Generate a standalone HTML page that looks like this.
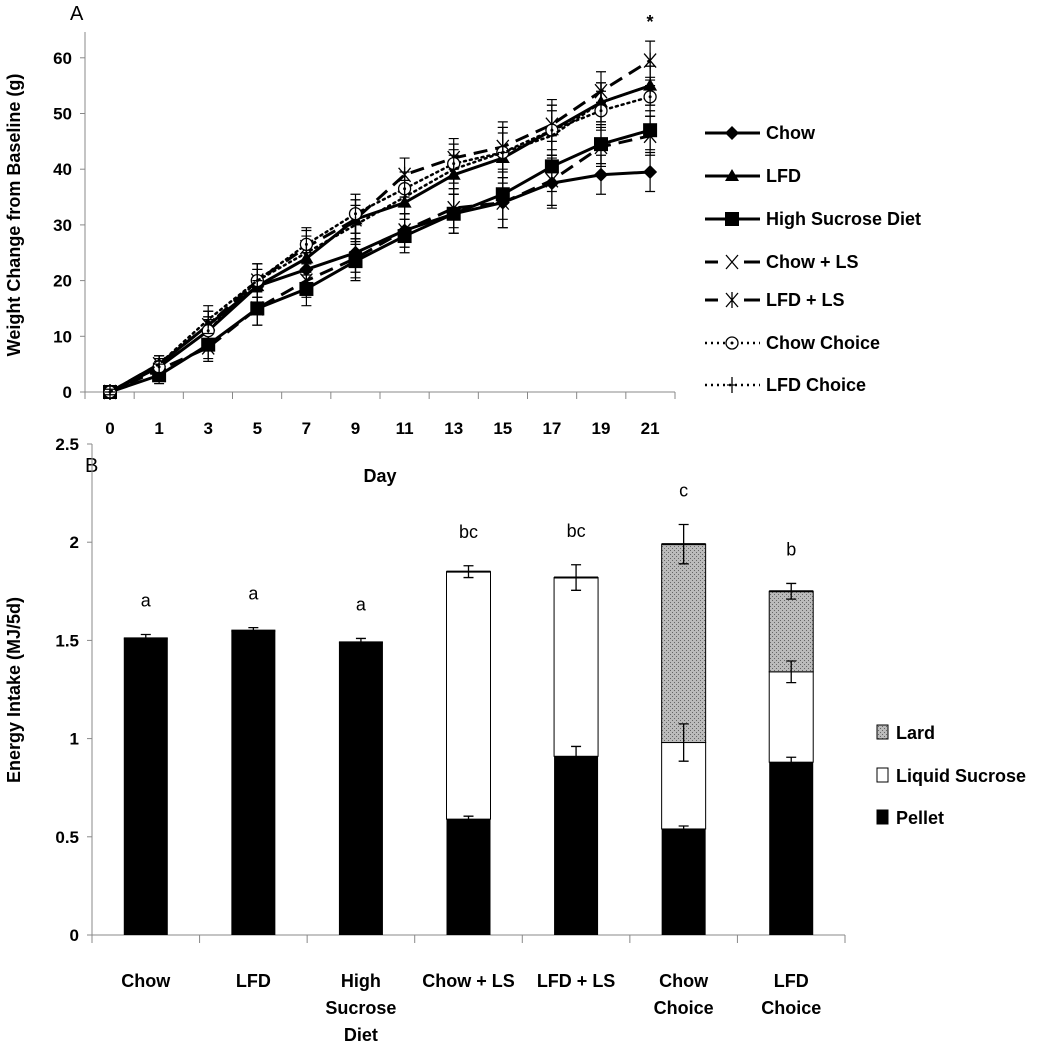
<!DOCTYPE html>
<html><head><meta charset="utf-8"><style>
body{margin:0;background:#fff;}
svg{display:block;font-family:"Liberation Sans",sans-serif;}
</style></head><body>
<svg id="fig" width="1050" height="1046" viewBox="0 0 1050 1046"></svg>
<script>
// ---- Panel A data ----
const days = ["0","1","3","5","7","9","11","13","15","17","19","21"];
const aTicks = [0,10,20,30,40,50,60];
const chow = [0,4.5,11,19,22,25,29,32,34,37.5,39,39.5];
const lfd = [0,5,12,19,24,31,34,39,42,47,52,55];
const hsd = [0,3,8.5,15,18.5,23.5,28,32,35.5,40.5,44.5,47];
const chowLS = [0,4,8,15,20,24,29,33,34,38,44,46];
const lfdLS = [0,5,12,20,26,31,39,42,44,48,54,59.5];
const chowChoice = [0,4.5,11,20,26.5,32,36.5,41,43,47,50.5,53];
const lfdChoice = [0,5,13,20,25,30,35,40,43,46,52,55];
const aErr = [0.5,1.5,2.5,3,3,3.5,3,3.5,4.5,4.5,3.5,3.5];
const aNames = ["Chow","LFD","High Sucrose Diet","Chow + LS","LFD + LS","Chow Choice","LFD Choice"];
// ---- Panel B data ----
const groups = [["Chow"],["LFD"],["High","Sucrose","Diet"],["Chow + LS"],["LFD + LS"],["Chow","Choice"],["LFD","Choice"]];
const pellet = [1.51,1.55,1.49,0.59,0.91,0.54,0.88];
const sucrose = [0,0,0,1.26,0.91,0.44,0.46];
const lard = [0,0,0,0,0,1.01,0.41];
const pelletErr = [0.02,0.015,0.02,0.015,0.05,0.015,0.025];
const sucroseErr = [0,0,0,0.03,0.065,0.095,0.055];
const lardErr = [0,0,0,0,0,0.1,0.04];
const letters = ["a","a","a","bc","bc","c","b"];
const bTicks = ["0","0.5","1","1.5","2","2.5"];

const NS="http://www.w3.org/2000/svg";
const svg=document.getElementById('fig');
function mk(tag,attrs,parent){const e=document.createElementNS(NS,tag);for(const k in attrs)e.setAttribute(k,attrs[k]);(parent||svg).appendChild(e);return e;}
function txt(s,x,y,attrs,parent){const t=mk('text',Object.assign({x:x,y:y},attrs),parent);t.textContent=s;return t;}

const defs=mk('defs',{});
const pat=mk('pattern',{id:'lardpat',width:4,height:4,patternUnits:'userSpaceOnUse'},defs);
mk('rect',{width:4,height:4,fill:'#bbb'},pat);
mk('rect',{width:1,height:1,fill:'#666'},pat);
mk('rect',{x:2,y:2,width:1,height:1,fill:'#666'},pat);

// ===== Panel A =====
const ax0=85, ax1=675, ay0=392, aPer=5.57;
const ay=v=>ay0-v*aPer;
const ax=i=>110+i*49.1;
const gA=mk('g',{});


txt('A',70,20,{'font-size':20},gA);
mk('line',{x1:ax0,y1:32,x2:ax0,y2:ay0,stroke:'#888','stroke-width':1},gA);
mk('line',{x1:ax0,y1:ay0,x2:ax1,y2:ay0,stroke:'#888','stroke-width':1},gA);
aTicks.forEach(v=>{
  mk('line',{x1:ax0-5,y1:ay(v),x2:ax0,y2:ay(v),stroke:'#888'},gA);
  const t=txt(String(v),ax0-13,ay(v)+6,{'font-size':17,'font-weight':'bold','text-anchor':'end'},gA);
  
  
});
for(let i=0;i<=days.length;i++){const x=ax0+i*(ax1-ax0)/days.length;mk('line',{x1:x,y1:ay0,x2:x,y2:ay0+7,stroke:'#888'},gA);}
days.forEach((d,i)=>{
  const t=txt(d,ax(i),434,{'font-size':17,'font-weight':'bold','text-anchor':'middle'},gA);
  
  
});
const yt=txt('Weight Change from Baseline (g)',0,0,{'font-size':18,'font-weight':'bold','text-anchor':'middle',transform:'translate(20,215) rotate(-90)'},gA);


const xt=txt('Day',380,482,{'font-size':18,'font-weight':'bold','text-anchor':'middle'},gA);


txt('*',650,28,{'font-size':18,'font-weight':'bold','text-anchor':'middle'},gA);

const series=[chow,lfd,hsd,chowLS,lfdLS,chowChoice,lfdChoice];
const dashes=['none','none','none','14,8','14,8','2,4','2,4'];
const widths=[3,3,3,3,3,2.5,2.5];
const markers=['diamond','triangle','square','x','star','circle','plus'];
function marker(type,x,y,parent){
  const s='#000';
  if(type==='diamond')mk('path',{d:`M${x} ${y-7}L${x+7} ${y}L${x} ${y+7}L${x-7} ${y}Z`,fill:s},parent);
  else if(type==='triangle')mk('path',{d:`M${x} ${y-7}L${x+7} ${y+5}L${x-7} ${y+5}Z`,fill:s},parent);
  else if(type==='square')mk('rect',{x:x-7,y:y-7,width:14,height:14,fill:s},parent);
  else if(type==='x')mk('path',{d:`M${x-6} ${y-7}L${x+6} ${y+7}M${x+6} ${y-7}L${x-6} ${y+7}`,stroke:s,'stroke-width':1.3},parent);
  else if(type==='star')mk('path',{d:`M${x-6} ${y-7}L${x+6} ${y+7}M${x+6} ${y-7}L${x-6} ${y+7}M${x} ${y-8}V${y+8}`,stroke:s,'stroke-width':1.3},parent);
  else if(type==='circle'){mk('circle',{cx:x,cy:y,r:6,fill:'#fff',stroke:s,'stroke-width':1.3},parent);mk('circle',{cx:x,cy:y,r:1.5,fill:s},parent);}
  else if(type==='plus')mk('path',{d:`M${x-5} ${y}H${x+5}M${x} ${y-8}V${y+8}`,stroke:s,'stroke-width':1.3},parent);
}
series.forEach((arr,si)=>{
  const g=mk('g',{},gA);
  
  
  arr.forEach((v,i)=>{
    const x=ax(i),e=aErr[i];
    mk('path',{d:`M${x} ${ay(v-e)}V${ay(v+e)}M${x-5} ${ay(v-e)}H${x+5}M${x-5} ${ay(v+e)}H${x+5}`,stroke:'#000','stroke-width':1.2},g);
  });
  mk('polyline',{points:arr.map((v,i)=>ax(i)+','+ay(v)).join(' '),fill:'none',stroke:'#000','stroke-width':widths[si],'stroke-dasharray':dashes[si],'stroke-linecap':si>=5?'round':'butt'},g);
  arr.forEach((v,i)=>marker(markers[si],ax(i),ay(v),g));
});
const legY=[133,176,219,262,300,343,385];
aNames.forEach((n,i)=>{
  const g=mk('g',{},gA);
  
  
  const y=legY[i];
  mk('line',{x1:705,y1:y,x2:760,y2:y,stroke:'#000','stroke-width':widths[i],'stroke-dasharray':i>=3&&i<5?'none':dashes[i]},g);
  if(i>=3&&i<5){mk('rect',{x:718,y:y-8,width:26,height:16,fill:'#fff'},g);}
  marker(markers[i],732,y,g);
  txt(n,766,y+6,{'font-size':18,'font-weight':'bold'},g);
});

// ===== Panel B =====
const bx0=92,bx1=845,by0=935,bPer=196.4;
const by=v=>by0-v*bPer;
const bw=(bx1-bx0)/groups.length;
const bc=i=>bx0+bw*(i+0.5);
const gB=mk('g',{});


txt('B',85,472,{'font-size':20},gB);
mk('line',{x1:bx0,y1:by(2.5),x2:bx0,y2:by0,stroke:'#888'},gB);
mk('line',{x1:bx0,y1:by0,x2:bx1,y2:by0,stroke:'#888'},gB);
bTicks.forEach(s=>{
  const v=parseFloat(s);
  mk('line',{x1:bx0-5,y1:by(v),x2:bx0,y2:by(v),stroke:'#888'},gB);
  const t=txt(s,bx0-13,by(v)+6,{'font-size':17,'font-weight':'bold','text-anchor':'end'},gB);
  
  
});
for(let i=0;i<=groups.length;i++){const x=bx0+i*bw;mk('line',{x1:x,y1:by0,x2:x,y2:by0+8,stroke:'#888'},gB);}
const yt2=txt('Energy Intake (MJ/5d)',0,0,{'font-size':18,'font-weight':'bold','text-anchor':'middle',transform:'translate(20,690) rotate(-90)'},gB);


groups.forEach((lines,i)=>{
  lines.forEach((l,k)=>{
    const t=txt(l,bc(i),987+k*27,{'font-size':18,'font-weight':'bold','text-anchor':'middle'},gB);
    
    
  });
});
function errbar(x,v,e,g){
  if(!e)return;
  mk('path',{d:`M${x} ${by(v-e)}V${by(v+e)}M${x-5} ${by(v-e)}H${x+5}M${x-5} ${by(v+e)}H${x+5}`,stroke:'#000','stroke-width':1.3},g);
}
const BW=44;
groups.forEach((_,i)=>{
  const x=bc(i);
  const p=mk('rect',{x:x-BW/2,y:by(pellet[i]),width:BW,height:pellet[i]*bPer,fill:'#000'},gB);
  
  
  if(sucrose[i]>0){
    const r=mk('rect',{x:x-BW/2,y:by(pellet[i]+sucrose[i]),width:BW,height:sucrose[i]*bPer,fill:'#fff',stroke:'#000','stroke-width':1},gB);
    
    
  }
  if(lard[i]>0){
    const r=mk('rect',{x:x-BW/2,y:by(pellet[i]+sucrose[i]+lard[i]),width:BW,height:lard[i]*bPer,fill:'url(#lardpat)',stroke:'#000','stroke-width':1},gB);
    
    
  }
  const top=pellet[i]+sucrose[i]+lard[i];
  mk('line',{x1:x-BW/2,y1:by(top),x2:x+BW/2,y2:by(top),stroke:'#000','stroke-width':2},gB);
  errbar(x,pellet[i],pelletErr[i],gB);
  errbar(x,pellet[i]+sucrose[i],sucroseErr[i],gB);
  errbar(x,top,lardErr[i],gB);
  const maxE=Math.max(pelletErr[i]*(sucrose[i]||lard[i]?0:1),lard[i]?lardErr[i]:(sucrose[i]?sucroseErr[i]:0));
  const t=txt(letters[i],x,by(top+maxE)-28,{'font-size':18,'text-anchor':'middle'},gB);
  
  
});
[['Lard','url(#lardpat)',732],['Liquid Sucrose','#fff',775],['Pellet','#000',817]].forEach(([n,f,y])=>{
  const g=mk('g',{},gB);
  
  
  mk('rect',{x:877,y:y-7,width:11,height:14,fill:f,stroke:'#000','stroke-width':1},g);
  txt(n,896,y+7,{'font-size':18,'font-weight':'bold'},g);
});
</script>
</body></html>
